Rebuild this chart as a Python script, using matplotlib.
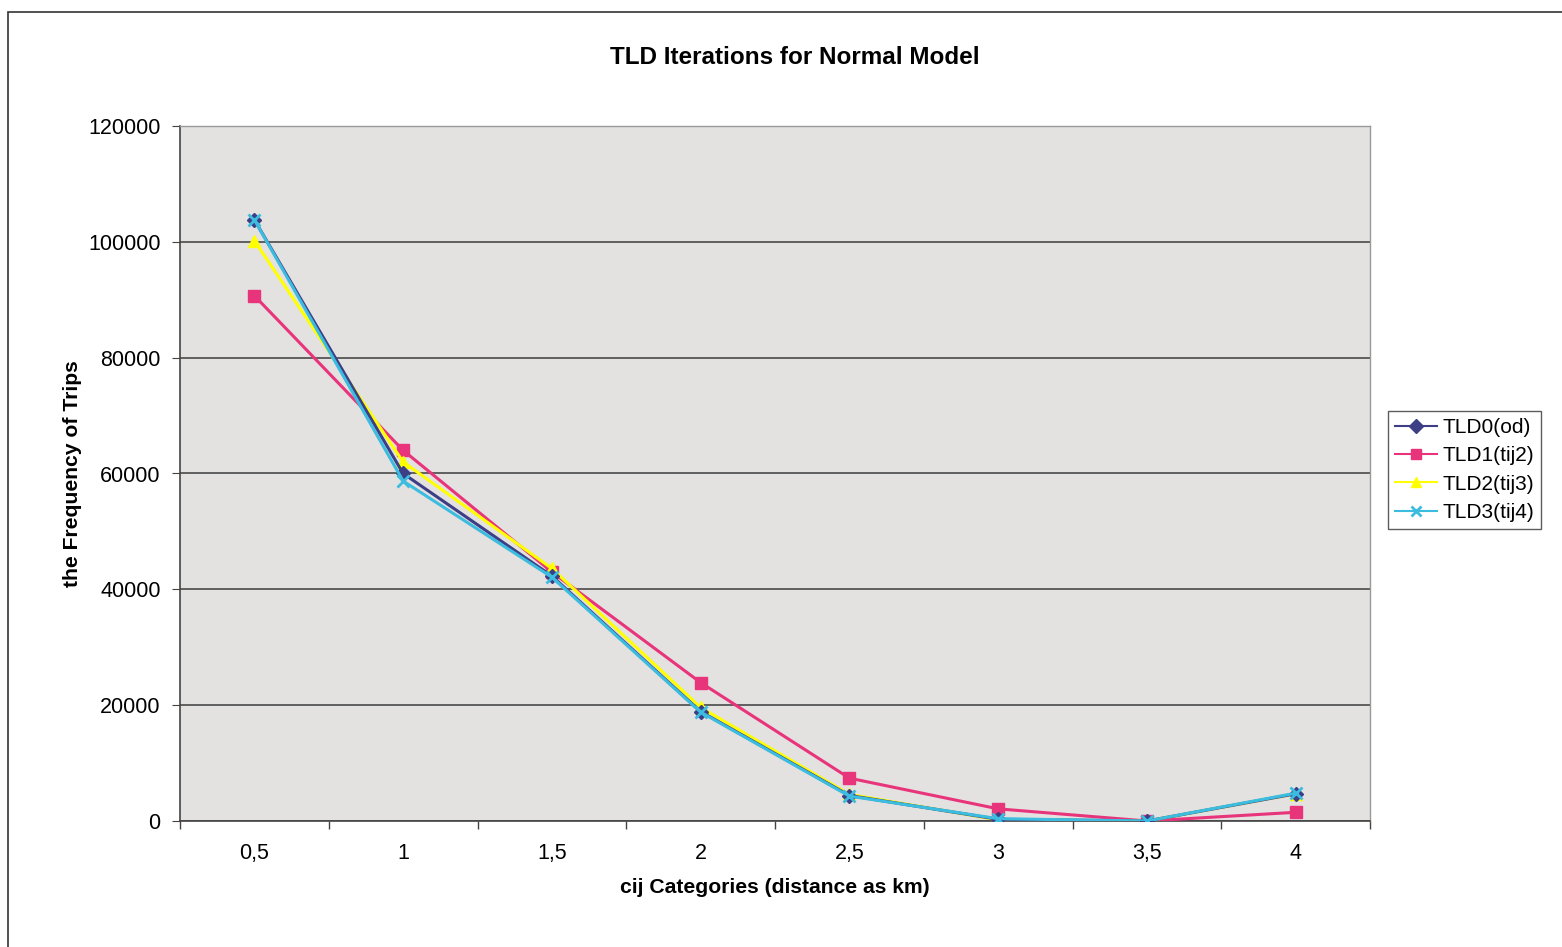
import matplotlib.pyplot as plt
import numpy as np
from matplotlib.patches import Rectangle

plt.rcParams['font.family'] = ['Liberation Sans', 'DejaVu Sans']

categories = ['0,5', '1', '1,5', '2', '2,5', '3', '3,5', '4']
tld0 = [103800, 60000, 42300, 18900, 4400, 300, 0, 4700]
tld1 = [90700, 64000, 43000, 23900, 7400, 2100, 0, 1500]
tld2 = [100200, 62000, 43600, 19600, 4600, 200, 0, 4700]
tld3 = [103800, 58700, 42100, 18800, 4300, 400, 0, 4800]
series_names = ['TLD0(od)', 'TLD1(tij2)', 'TLD2(tij3)', 'TLD3(tij4)']

fig = plt.figure(figsize=(15.62, 9.47), dpi=100)
fig.patch.set_facecolor('white')

# frame of the chart area (scanned page)
fig.patches.append(Rectangle((8 / 1562, -0.1), 1.2, 1 - 12 / 947 + 0.1,
                             transform=fig.transFigure, fill=False,
                             edgecolor='#333333', linewidth=1.2))

ax = fig.add_axes([180 / 1562, 1 - 821 / 947, 1190 / 1562, 695 / 947])
ax.set_facecolor('#e4e1e1')

x = np.arange(1, len(categories) + 1)
ax.plot(x, tld0, color='#3c3f86', marker='D', markersize=7, linewidth=2.2, label=series_names[0], zorder=4)
ax.plot(x, tld1, color='#e8347a', marker='s', markersize=8, linewidth=2.2, label=series_names[1], zorder=3)
ax.plot(x, tld2, color='#ffff00', marker='^', markersize=9, linewidth=2.2, label=series_names[2], zorder=3)
ax.plot(x, tld3, color='#3cbde0', marker='x', markersize=8, markeredgewidth=2, linewidth=2.2,
        label=series_names[3], zorder=5)

ax.set_xlim(0.5, len(categories) + 0.5)
ax.set_ylim(0, 120000)
ax.set_yticks(np.arange(0, 120001, 20000))
ax.yaxis.grid(True, color='#555555', linewidth=1.3)
ax.set_axisbelow(True)

ax.set_xticks(x)
ax.set_xticklabels(categories)
ax.set_xticks(np.arange(0.5, len(categories) + 1, 1), minor=True)
ax.tick_params(axis='x', which='major', length=0, pad=16, labelsize=15.5)
ax.tick_params(axis='x', which='minor', length=6, color='#444444', width=1)
ax.tick_params(axis='y', length=6, color='#444444', labelsize=15.5, pad=8)

for side in ['left', 'bottom']:
    ax.spines[side].set_color('#444444')
    ax.spines[side].set_linewidth(1.2)
for side in ['top', 'right']:
    ax.spines[side].set_color('#9a9a9a')
    ax.spines[side].set_linewidth(1)

ax.set_xlabel('cij Categories (distance as km)', fontsize=15.2, fontweight='bold', labelpad=10)
ax.set_ylabel('the Frequency of Trips', fontsize=15.2, fontweight='bold', labelpad=4)
fig.text(795 / 1562, 1 - 58 / 947, 'TLD Iterations for Normal Model', fontsize=17.5,
         fontweight='bold', ha='center', va='center')

leg = ax.legend(loc='center left', bbox_to_anchor=(1.015, 0.505), fontsize=15,
                frameon=True, fancybox=False, edgecolor='#333333', handlelength=2.0,
                handletextpad=0.25, borderpad=0.35, labelspacing=0.45, borderaxespad=0)
leg.get_frame().set_linewidth(1)
for line in leg.get_lines():
    line.set_linewidth(1.5)
    line.set_markersize(7)

plt.savefig('out.png', dpi=100)
